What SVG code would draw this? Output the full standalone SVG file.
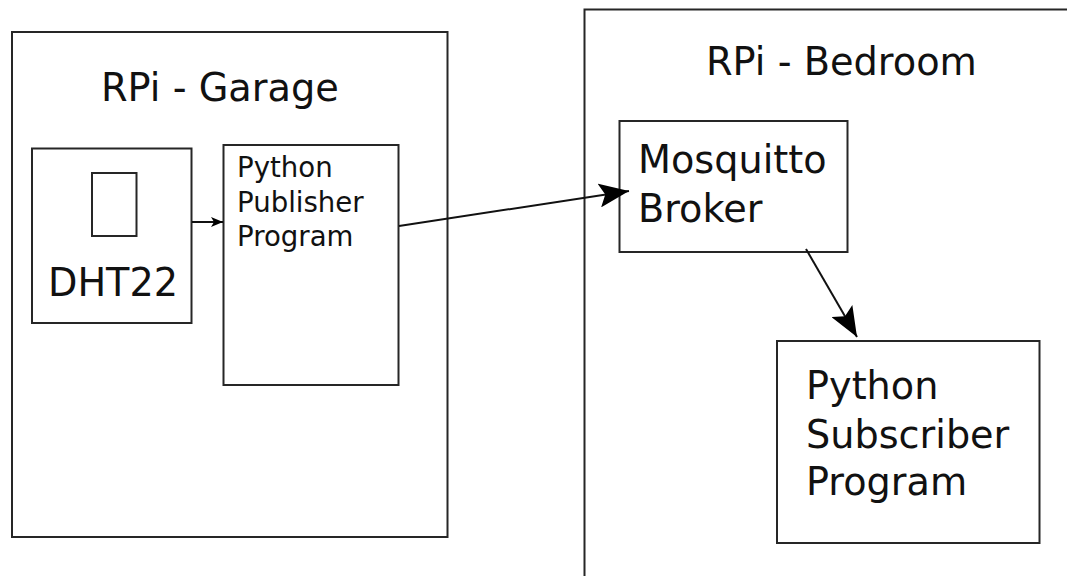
<svg xmlns="http://www.w3.org/2000/svg" width="1067" height="576" viewBox="0 0 1067 576">
<defs>
<style>
.box{fill:#fff;stroke:#262626;stroke-width:2}
.t{font-family:"DejaVu Sans",sans-serif;fill:#111}
.conn{stroke:#111;stroke-width:2;fill:none}
</style>
<marker id="big" viewBox="0 0 30 24" refX="30" refY="12" markerWidth="30" markerHeight="24" markerUnits="userSpaceOnUse" orient="auto">
<path d="M0,0 L30,12 L0,24 L6,12 Z" fill="#000"/>
</marker>
<marker id="small" viewBox="0 0 12 10" refX="12" refY="5" markerWidth="12" markerHeight="10" markerUnits="userSpaceOnUse" orient="auto">
<path d="M0,0 L12,5 L0,10 L3,5 Z" fill="#000"/>
</marker>
</defs>
<rect width="1067" height="576" fill="#fff"/>
<g id="garage">
<rect class="box" x="12" y="32" width="435.5" height="505"/>
<text class="t" x="101" y="101" font-size="38.3">RPi - Garage</text>
</g>
<g id="bedroom">
<rect class="box" x="584.5" y="9.5" width="500" height="600"/>
<text class="t" x="706" y="75" font-size="38.3">RPi - Bedroom</text>
</g>
<g id="dht22">
<rect class="box" x="32" y="148.5" width="159.5" height="174.5"/>
<rect class="box" x="92" y="173" width="44.5" height="63"/>
<text class="t" x="48" y="296" font-size="38.2">DHT22</text>
</g>
<g id="publisher">
<rect class="box" x="223.5" y="145" width="175" height="240"/>
<text class="t" font-size="27.6"><tspan x="237" y="177">Python</tspan><tspan x="237" y="211.5">Publisher</tspan><tspan x="237" y="246">Program</tspan></text>
</g>
<g id="mosquitto">
<rect class="box" x="619.5" y="121" width="228" height="131"/>
<text class="t" font-size="38.2"><tspan x="638" y="173">Mosquitto</tspan><tspan x="638" y="221.5">Broker</tspan></text>
</g>
<g id="subscriber">
<rect class="box" x="777" y="341" width="262.5" height="202"/>
<text class="t" font-size="38.2"><tspan x="806" y="399">Python</tspan><tspan x="806" y="447.5">Subscriber</tspan><tspan x="806" y="495">Program</tspan></text>
</g>
<g id="connectors">
<line class="conn" x1="192" y1="222" x2="223" y2="222" marker-end="url(#small)"/>
<line class="conn" x1="399" y1="226" x2="629" y2="191" marker-end="url(#big)"/>
<line class="conn" x1="806" y1="249" x2="857" y2="337" marker-end="url(#big)"/>
</g>
</svg>
